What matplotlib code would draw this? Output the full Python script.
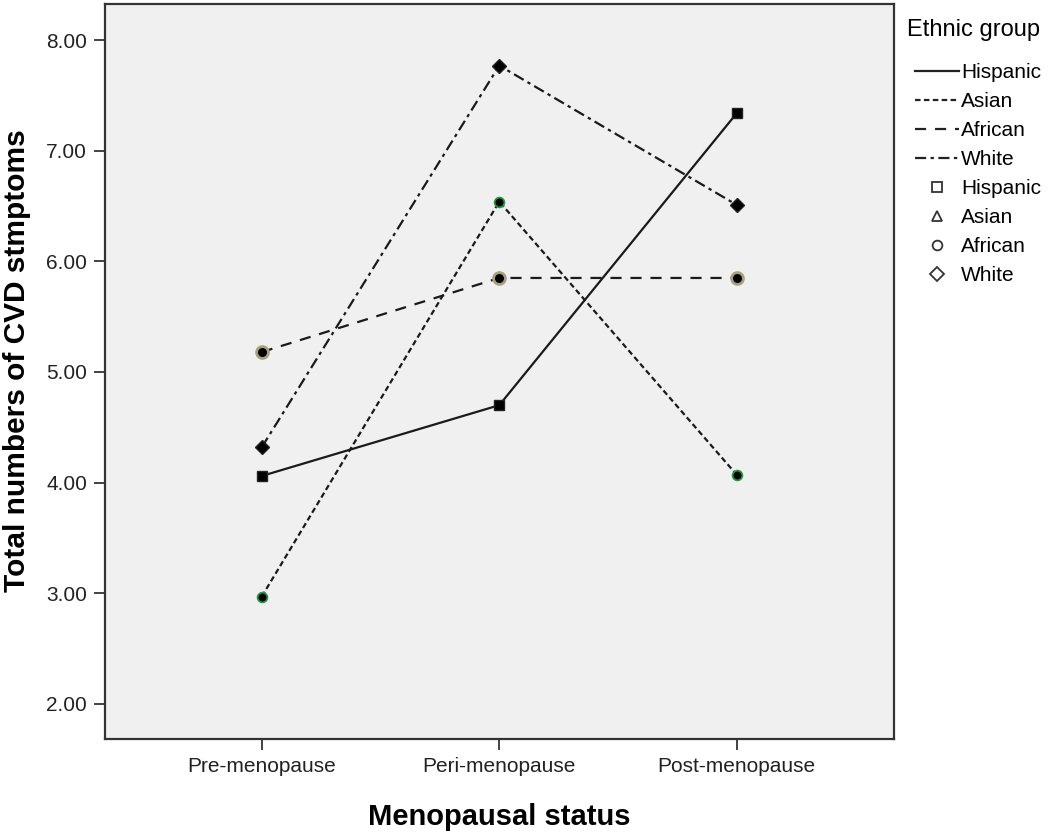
import matplotlib
matplotlib.use("Agg")
import matplotlib.pyplot as plt
from matplotlib.lines import Line2D

# data
stages = ["Pre-menopause", "Peri-menopause", "Post-menopause"]
groups = ["Hispanic", "Asian", "African", "White"]
hispanic = [4.06, 4.70, 7.34]
asian = [2.97, 6.54, 4.07]
african = [5.18, 5.85, 5.85]
white = [4.32, 7.77, 6.51]
y_ticks = [2.0, 3.0, 4.0, 5.0, 6.0, 7.0, 8.0]

plt.rcParams['font.family'] = ['Liberation Sans', 'DejaVu Sans']

fig = plt.figure(figsize=(10.5, 8.32), dpi=100)
ax = fig.add_axes([0.1, 0.112, 0.751, 0.883])
ax.set_facecolor('#f0f0f0')

x = list(range(len(stages)))
series = [hispanic, asian, african, white]
dashes = [None, (2.5, 1.5), (5, 4), (5, 2, 1.5, 2)]
mk = ['s', 'o', 'o', 'D']
ms = [7.5, 7, 8.5, 7]
mfc = ['black', 'black', 'black', 'black']
mec = ['#222222', '#1f9a3c', '#a8a078', '#222222']
mew = [1, 1.3, 2, 1]

for vals, d, m, s, fc, ec, w in zip(series, dashes, mk, ms, mfc, mec, mew):
    line, = ax.plot(x, vals, color='#1a1a1a', lw=1.6, marker=m, markersize=s,
                    markerfacecolor=fc, markeredgecolor=ec, markeredgewidth=w)
    if d is not None:
        line.set_dashes(d)

ax.set_xlim(-0.66, 2.66)
ax.set_ylim(1.684, 8.325)
ax.set_xticks(x)
ax.set_xticklabels(stages, fontsize=15)
ax.set_yticks(y_ticks)
ax.set_yticklabels(["%.2f" % v for v in y_ticks], fontsize=15)
ax.tick_params(direction='out', length=8, width=1.2, colors='#222222', pad=5)
for sp in ax.spines.values():
    sp.set_color('#333333')
    sp.set_linewidth(1.6)

ax.set_xlabel("Menopausal status", fontsize=21, fontweight='bold')
ax.set_ylabel("Total numbers of CVD stmptoms", fontsize=21.5, fontweight='bold')
ax.xaxis.set_label_coords(0.4994, -0.087)
ax.yaxis.set_label_coords(-0.094, 0.515)

# legend: title as text, then line styles and marker symbols
fig.text(907 / 1050, 1 - 30 / 832, "Ethnic group", fontsize=17, ha='left', va='center')
handles = []
for d in dashes:
    h = Line2D([0], [0], color='#222222', lw=1.6)
    if d is not None:
        h.set_dashes(d)
    handles.append(h)
for m in ['s', '^', 'o', 'D']:
    handles.append(Line2D([0], [0], linestyle='none', marker=m, markersize=7,
                          markerfacecolor='none', markeredgecolor='#333333', markeredgewidth=1.3))
labels = groups + groups
leg = fig.legend(handles, labels, loc='upper left', bbox_to_anchor=(915 / 1050, 1 - 63 / 832),
                 frameon=False, fontsize=15, handlelength=2.1, handletextpad=0.1,
                 labelspacing=0.48, borderpad=0, borderaxespad=0)

fig.savefig("out.png", dpi=100)
